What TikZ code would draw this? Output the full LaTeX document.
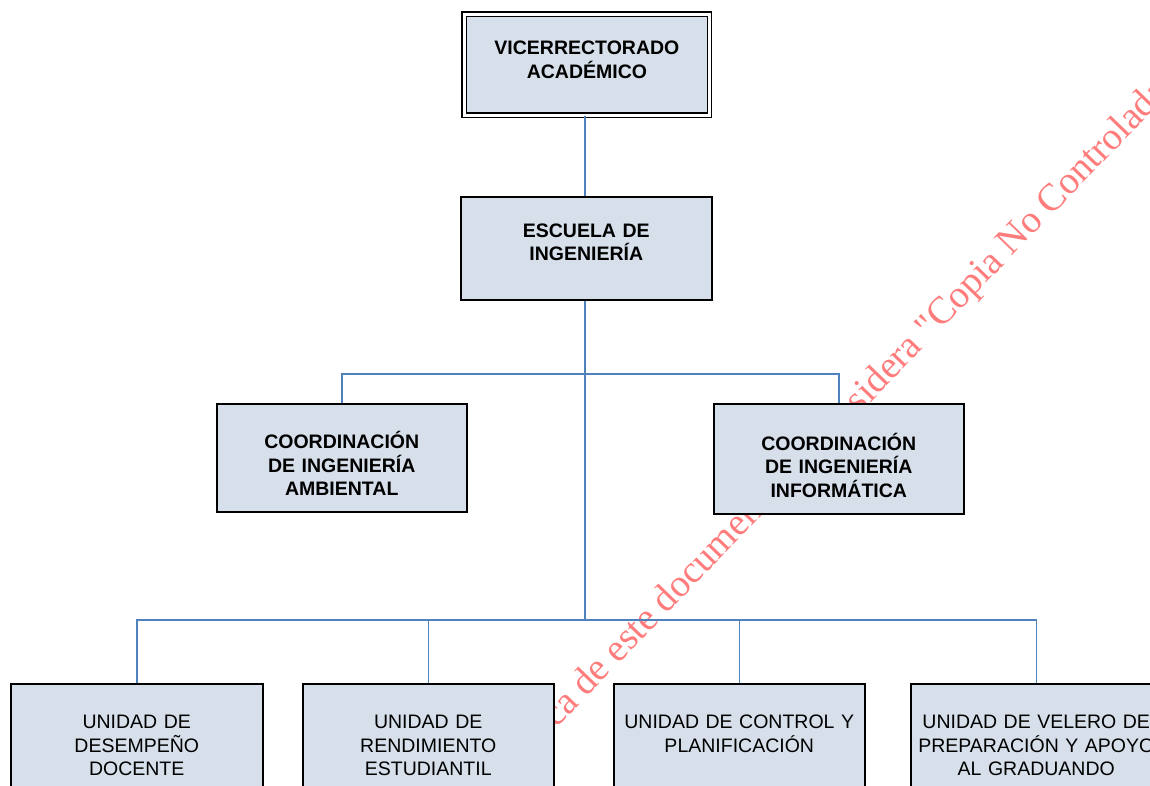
\documentclass[tikz,border=0pt]{standalone}
\usepackage{fontspec}
\setmainfont{Liberation Sans}
\newfontfamily\marcafont{Liberation Serif}

\definecolor{cajafondo}{HTML}{D6DFEA}
\definecolor{lineaazul}{HTML}{4F81BD}
\definecolor{marcaroja}{HTML}{FF7C7C}

\tikzset{
  caja/.style={draw=black, line width=1.5pt, fill=cajafondo, inner sep=0pt,
    align=center, anchor=north west, font=\fontsize{19.5}{23.5}\selectfont},
  cajanegrita/.style={caja, font=\bfseries\fontsize{19.5}{23.5}\selectfont},
  tam/.style n args={3}{text width=#1pt, text height=#2pt, text depth=#3pt},
  conector/.style={draw=lineaazul, line width=1.5pt},
  marca/.style={text=marcaroja, inner sep=0pt, font=\marcafont\fontsize{38.5}{40}\selectfont}
}

\begin{document}
\begin{tikzpicture}[x=1pt, y=-1pt]
    \useasboundingbox (0,0) rectangle (1150,785);
    \clip (0,0) rectangle (1150,785);

    % Marca de agua
    \node[marca, anchor=base west, rotate=46] (marcaagua) at (556,729)
        {ca de este documento se considera "Copia No Controlada"};

    % Nivel superior
    \node[cajanegrita, double, double distance=3pt, line width=1.3pt,
          tam={245.5}{40.8}{60.2}] (vice) at (463.5,13.5) {VICERRECTORADO\\ACADÉMICO};
    \node[cajanegrita, tam={251}{40.7}{62.3}] (escuela) at (460,196) {ESCUELA DE\\INGENIERÍA};

    % Coordinaciones
    \node[cajanegrita, tam={250}{45}{63}] (ambiental) at (216,403)
        {COORDINACIÓN\\DE INGENIERÍA\\AMBIENTAL};
    \node[cajanegrita, tam={250}{46.3}{63.7}] (informatica) at (713,403)
        {COORDINACIÓN\\DE INGENIERÍA\\INFORMÁTICA};

    % Unidades
    \node[caja, tam={252}{45}{65}] (desempeno) at (10,683) {UNIDAD DE\\DESEMPEÑO\\DOCENTE};
    \node[caja, tam={251}{45}{65}] (rendimiento) at (302,683) {UNIDAD DE\\RENDIMIENTO\\ESTUDIANTIL};
    \node[caja, tam={251}{45}{65}] (control) at (613,683) {UNIDAD DE CONTROL Y\\PLANIFICACIÓN};
    \node[caja, tam={251}{45}{65}] (velero) at (910,683) {UNIDAD DE VELERO DE\\PREPARACIÓN Y APOYO\\AL GRADUANDO};

    % Puntos de ramificacion
    \coordinate (ramaA) at (585,374);
    \coordinate (ramaB) at (585,620);

    % Conectores
    \draw[conector] (vice.south -| ramaA) -- (escuela.north -| ramaA);
    \draw[conector] (escuela.south -| ramaA) -- (ramaB);
    \draw[conector] (ambiental.north) |- (ramaA) -| (informatica.north);
    \draw[conector] (desempeno.north) |- (ramaB) -| (velero.north);
    \draw[conector] (rendimiento.north) -- (rendimiento.north |- ramaB);
    \draw[conector] (control.north) -- (control.north |- ramaB);
\end{tikzpicture}
\end{document}
